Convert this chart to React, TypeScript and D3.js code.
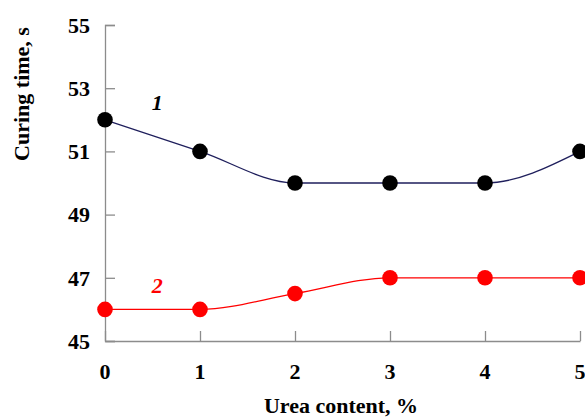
import React, { useEffect, useRef } from 'react';
import * as d3 from 'd3';

const ureaContent = [0, 1, 2, 3, 4, 5];
const curve1 = [52, 51, 50, 50, 50, 51];
const curve2 = [46, 46, 46.5, 47, 47, 47];
const yTicks = [45, 47, 49, 51, 53, 55];

const W = 585;
const H = 419;

export default function App() {
  const ref = useRef<SVGSVGElement>(null);

  useEffect(() => {
    document.body.style.margin = '0';
    const svg = d3.select(ref.current);
    svg.selectAll('*').remove();

    const font = '"Liberation Serif", "Times New Roman", serif';
    const x = d3.scaleLinear().domain([0, 5]).range([105, 580]);
    const y = d3.scaleLinear().domain([45, 55]).range([341, 25]);
    const axisColor = '#8c8c8c';

    // y axis
    const gy = svg.append('g').attr('transform', 'translate(' + x(0) + ',0)');
    gy.call(d3.axisRight(y).tickValues(yTicks).tickSize(10).tickFormat(() => ''));
    gy.select('.domain').attr('stroke', axisColor).attr('stroke-width', 1.3);
    gy.selectAll('.tick line').attr('stroke', axisColor).attr('stroke-width', 1.3);

    svg.append('g').selectAll('text').data(yTicks).enter().append('text')
      .attr('x', 90)
      .attr('y', d => y(d))
      .attr('dy', '0.35em')
      .attr('text-anchor', 'end')
      .style('font-family', font)
      .style('font-weight', 'bold')
      .style('font-size', '22px')
      .text(d => d);

    // x axis
    const gx = svg.append('g').attr('transform', 'translate(0,' + y(45) + ')');
    gx.call(d3.axisTop(x).tickValues(ureaContent).tickSize(10).tickSizeOuter(0).tickFormat(() => ''));
    gx.select('.domain').attr('stroke', axisColor).attr('stroke-width', 1.3);
    gx.selectAll('.tick line').attr('stroke', axisColor).attr('stroke-width', 1.3);

    svg.append('g').selectAll('text').data(ureaContent).enter().append('text')
      .attr('x', d => x(d))
      .attr('y', 379)
      .attr('text-anchor', 'middle')
      .style('font-family', font)
      .style('font-weight', 'bold')
      .style('font-size', '22px')
      .text(d => d);

    // titles
    svg.append('text')
      .attr('transform', 'translate(29,' + 94 + ') rotate(-90)')
      .attr('text-anchor', 'middle')
      .style('font-family', font)
      .style('font-weight', 'bold')
      .style('font-size', '22px')
      .text('Curing time, s');

    svg.append('text')
      .attr('x', 341)
      .attr('y', 413)
      .attr('text-anchor', 'middle')
      .style('font-family', font)
      .style('font-weight', 'bold')
      .style('font-size', '22px')
      .text('Urea content, %');

    const line = d3.line<number>()
      .x((d, i) => x(ureaContent[i]))
      .y(d => y(d))
      .curve(d3.curveMonotoneX);

    const series = [
      { values: curve1, line: '#1f1f5c', dot: '#000000', label: '1', lx: 0.55, ly: 52.55 },
      { values: curve2, line: '#ff0000', dot: '#ff0000', label: '2', lx: 0.55, ly: 46.75 },
    ];

    series.forEach(s => {
      svg.append('path')
        .attr('d', line(s.values))
        .attr('fill', 'none')
        .attr('stroke', s.line)
        .attr('stroke-width', 1.3);
      svg.append('g').selectAll('circle').data(s.values).enter().append('circle')
        .attr('cx', (d, i) => x(ureaContent[i]))
        .attr('cy', d => y(d))
        .attr('r', 7.8)
        .attr('fill', s.dot);
      svg.append('text')
        .attr('x', x(s.lx))
        .attr('y', y(s.ly))
        .attr('dy', '0.35em')
        .attr('text-anchor', 'middle')
        .style('font-family', font)
        .style('font-weight', 'bold')
        .style('font-style', 'italic')
        .style('font-size', '22px')
        .attr('fill', s.dot)
        .text(s.label);
    });
  }, []);

  return (
    <svg ref={ref} width={W} height={H} style={{ display: 'block', background: '#fff' }}></svg>
  );
}
